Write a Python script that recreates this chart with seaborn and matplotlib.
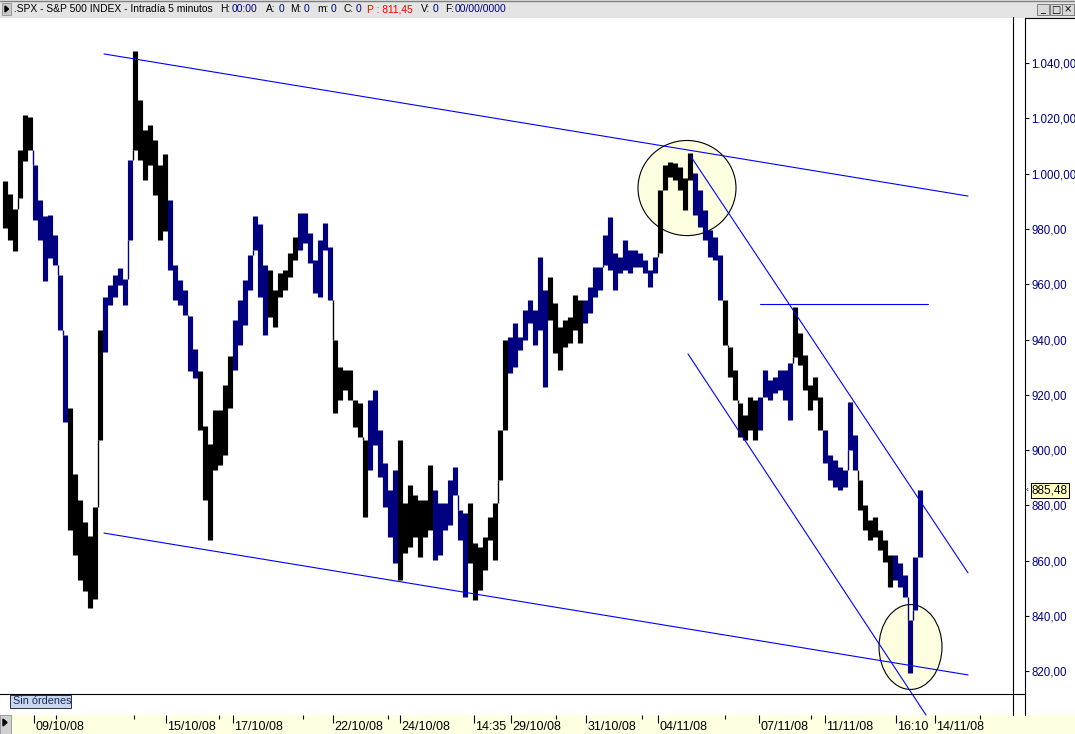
import numpy as np
import seaborn as sns
import matplotlib.pyplot as plt
import matplotlib.transforms as mtransforms
from matplotlib.patches import Ellipse, Rectangle, Polygon
from matplotlib.lines import Line2D

# --- data ------------------------------------------------------------------
# one bar every ~25 minutes, S&P 500 intraday, 08/10/08 .. 13/11/08
highs = [997.3, 992.6, 987.2, 1008.5, 1021.2, 1020.5,
         1003.1, 990.5, 984.7, 985.0, 977.8, 963.3, 941.6,
         915.2, 891.4, 882.0, 874.0, 868.9, 879.4, 943.4,
         955.4, 959.7, 963.3, 965.9, 961.9, 1004.9,
         1044.4, 1026.6, 1015.8, 1017.6, 1012.2, 1003.1, 1007.1,
         990.5, 967.0, 961.5, 957.9, 948.5, 936.6,
         928.6, 908.7, 902.2, 914.5, 914.5, 923.5, 934.0,
         947.0, 954.3, 961.5, 970.6, 984.7, 981.8, 967.0,
         965.1, 957.9, 964.1, 965.1, 971.3, 977.1,
         985.8, 985.8, 978.5, 968.8, 976.0, 982.1, 973.5,
         939.8, 930.1, 929.0, 929.0, 918.1, 917.0, 903.7,
         918.1, 921.7, 907.3, 895.3, 885.6, 892.8,
         903.7, 880.9, 887.4, 883.8, 882.0, 882.0, 894.6,
         885.6, 880.9, 880.9, 889.2, 893.9, 878.3, 877.3,
         880.9, 866.4, 864.9, 868.6, 875.8, 880.9, 907.3, 939.8,
         940.9, 946.0, 940.9, 950.7, 954.3, 950.7, 969.8, 957.9,
         962.6, 953.2, 944.5, 947.1, 948.1, 956.1, 954.3,
         954.3, 959.0, 966.2, 966.2, 977.8, 984.3, 971.3, 969.8, 976.0,
         972.4, 972.4, 971.3, 968.8, 965.1, 969.8,
         994.1, 1003.1, 1004.2, 1003.8, 1002.4, 998.4, 1007.5,
         1000.2, 994.1, 986.8, 979.6, 977.1, 970.6,
         954.3, 937.3, 929.0, 917.0, 912.7, 919.2, 918.1,
         919.2, 929.0, 925.4, 926.4, 929.0, 929.0, 931.5,
         951.8, 942.4, 934.4, 923.5, 926.4, 919.2,
         907.3, 898.2, 896.4, 893.9, 892.8, 917.4, 905.5,
         889.2, 880.1, 874.7, 875.8, 871.1, 867.5, 862.1,
         862.1, 859.2, 854.8, 838.5, 861.3, 885.6]

lows = [980.3, 976.0, 972.0, 991.2, 1004.6, 1008.5,
        983.2, 976.0, 961.2, 969.5, 967.0, 943.4, 910.2,
        871.1, 862.1, 853.0, 849.0, 842.9, 846.1, 903.7,
        935.5, 952.5, 955.4, 959.7, 952.5, 976.0,
        1008.5, 1004.9, 997.7, 1003.1, 992.3, 976.0, 979.2,
        965.1, 954.3, 952.5, 948.9, 928.6, 926.1,
        907.3, 882.0, 867.5, 892.8, 894.6, 898.2, 915.2,
        929.0, 938.0, 945.2, 957.9, 972.4, 955.4, 941.6,
        948.1, 944.5, 955.4, 957.9, 962.6, 968.8,
        972.4, 974.9, 967.7, 956.8, 955.4, 972.4, 954.3,
        913.4, 918.1, 921.7, 918.1, 908.4, 904.7, 875.8,
        892.8, 901.8, 890.3, 879.4, 868.6, 859.2,
        853.0, 862.8, 864.9, 868.6, 861.3, 868.6, 871.1,
        860.2, 862.1, 871.1, 872.9, 883.8, 867.5, 846.9,
        859.2, 845.8, 849.4, 856.6, 867.5, 860.2, 889.2, 907.3,
        927.9, 930.1, 936.2, 939.8, 946.0, 938.0, 943.4, 922.8,
        947.1, 935.1, 929.0, 937.3, 938.7, 943.4, 938.7,
        946.0, 949.6, 955.4, 957.9, 967.0, 965.1, 957.9, 964.1, 965.1,
        964.1, 966.2, 966.2, 964.1, 959.0, 964.1,
        971.3, 994.1, 998.8, 997.7, 994.1, 986.8, 997.7,
        985.0, 980.7, 976.0, 969.8, 968.8, 954.3,
        938.0, 926.4, 918.1, 904.7, 903.7, 907.3, 903.7,
        907.3, 919.2, 918.1, 920.7, 921.7, 918.1, 910.9,
        933.7, 930.8, 921.7, 914.5, 918.1, 907.3,
        895.3, 889.2, 886.7, 885.6, 886.7, 900.0, 892.8,
        878.3, 871.1, 867.5, 868.6, 863.9, 859.5, 850.5,
        853.0, 850.5, 846.9, 819.4, 842.2, 861.3]

# session colour of each bar: B = black day, N = navy day
sessions = ("BBBBBB" "NNNNNNN" "BBBBBBB" "NNNNNN" "BBBBBBB" "NNNNNN" "BBBBBBB"
            "NNNNNNN" "BBBBBB" "NNNNNNN" "BBBBBBB" "NNNNNN" "BBBBBBB" "NNNNNNN"
            "BBBBBBBB" "NNNNNNNN" "BBBBBBB" "NNNNNNNNNNNNNNN" "BBBBBBB" "NNNNNN"
            "BBBBBBB" "NNNNNNN" "BBBBBB" "NNNNNNN" "BBBBBBB" "NNNNNN")

last_price = 885.48

x_major = [5.8, 32.2, 45.6, 65.6, 79.0, 93.8, 101.2, 116.2, 130.6, 150.8, 164.0, 178.2, 186.0]
x_labels = ["09/10/08", "15/10/08", "17/10/08", "22/10/08", "24/10/08", "14:35",
            "29/10/08", "31/10/08", "04/11/08", "07/11/08", "11/11/08", "16:10", "14/11/08"]
x_minor = [10.2, 25.8, 42.8, 59.6, 76.6, 110.2, 127.4, 144.0, 161.2, 195.0]
y_ticks = [820, 840, 860, 880, 900, 920, 940, 960, 980, 1000, 1020, 1040]

# drawn trend lines (bar, price)
upper_chan = ([19.8, 192.6], [1043.3, 991.9])
lower_chan = ([19.8, 192.6], [870.0, 818.7])
down_upper = ([137.0, 192.6], [1006.7, 855.6])
down_lower = ([136.6, 184.2], [934.8, 804.2])
resist = ([151.0, 184.6], [952.8, 952.8])
# marked zones: (bar, price, width in bars, height in points)
zones = [(136.4, 994.8, 19.6, 34.4), (181.1, 828.8, 12.6, 30.7)]

# --- figure ----------------------------------------------------------------
sns.set_style("white")
plt.rcParams['font.family'] = ['Liberation Sans', 'DejaVu Sans']

W, H = 1075, 734
NAVY = '#000080'
fig = plt.figure(figsize=(W / 100, H / 100), dpi=100)


def fx(px):
    return px / W


def fy(py):
    return 1 - py / H


ax = fig.add_axes([0, fy(694), fx(1025), (694 - 18) / H])
ax.set_xlim(-1, 204)
ax.set_ylim(811.8, 1056.3)

x = np.arange(len(highs))
cols = ['black' if s == 'B' else NAVY for s in sessions]

for xy, w, h in [((z[0], z[1]), z[2], z[3]) for z in zones]:
    ax.add_patch(Ellipse(xy, w, h, facecolor='#fdfde0', edgecolor='black', lw=0.8, zorder=1))

# gap wicks between bars
for i in range(1, len(highs)):
    if lows[i] > highs[i - 1]:
        ax.vlines(i - 0.5, highs[i - 1], lows[i], color=cols[i], lw=1.0, zorder=2)
    elif highs[i] < lows[i - 1]:
        ax.vlines(i - 0.5, highs[i], lows[i - 1], color=cols[i], lw=1.0, zorder=2)
ax.vlines(x, lows, highs, colors=cols, linewidth=3.7, zorder=2)

for lx, ly in [upper_chan, lower_chan, down_upper, down_lower, resist]:
    sns.lineplot(x=lx, y=ly, color='#0000ff', lw=0.8, ax=ax, zorder=3, clip_on=False)
ax.set_xlabel('')
ax.set_ylabel('')

for s in ['left', 'top']:
    ax.spines[s].set_visible(False)
for s in ['right', 'bottom']:
    ax.spines[s].set_color('black')
    ax.spines[s].set_linewidth(0.8)

ax.set_xticks([])
ax.yaxis.tick_right()
ax.set_yticks(y_ticks)


def es_fmt(v):
    return f"{v:,.2f}".replace(',', 'X').replace('.', ',').replace('X', '.')


ax.set_yticklabels([es_fmt(v) for v in y_ticks])
ax.tick_params(axis='y', direction='out', length=3, width=0.8, color='black',
               labelcolor=NAVY, labelsize=8.3, pad=1.5)

# last price flag
trans = mtransforms.blended_transform_factory(fig.transFigure, ax.transData)
ax.text(fx(1032), last_price, es_fmt(last_price), transform=trans, fontsize=8.5,
        va='center', ha='left', color='black', clip_on=False,
        bbox=dict(boxstyle='square,pad=0.12', fc='#ffffc0', ec='black', lw=0.7))
ax.text(fx(1026), last_price, '‹', transform=trans, fontsize=6, va='center',
        ha='left', color='black', clip_on=False)

# --- frame pieces --------------------------------------------------------
fig.add_artist(Rectangle((0, fy(18)), 1, 18 / H, transform=fig.transFigure,
                         facecolor='#e4e4e4', edgecolor='none', zorder=-2))
fig.add_artist(Line2D([0, 1], [fy(0.5), fy(0.5)], color='#808080', lw=1))
fig.add_artist(Rectangle((fx(2), fy(15)), fx(9), 12 / H, transform=fig.transFigure,
                         facecolor='#c8c8c8', edgecolor='#909090', lw=0.6))
fig.add_artist(Polygon([[fx(5), fy(6)], [fx(5), fy(12)], [fx(8.5), fy(9)]],
                       closed=True, transform=fig.transFigure, color='black'))

header = [(14, ".SPX - S&P 500 INDEX - Intradía 5 minutos", 'black'),
          (220, "H:", 'black'), (232, "00:00", NAVY),
          (266, "A:", 'black'), (279, "0", NAVY),
          (290, "M:", 'black'), (304, "0", NAVY),
          (317, "m:", 'black'), (331, "0", NAVY),
          (343, "C:", 'black'), (356, "0", NAVY),
          (367, "P : 811,45", '#ff0000'),
          (421, "V:", 'black'), (433, "0", NAVY),
          (445, "F:", 'black'), (455, "00/00/0000", NAVY)]
for px, txt, c in header:
    fig.text(fx(px), fy(9), txt, color=c, fontsize=7.4, va='center', ha='left')

for bx, glyph in [(1037, '_'), (1050, '□'), (1062, '×')]:
    fig.add_artist(Rectangle((fx(bx), fy(15)), fx(12), 11 / H, transform=fig.transFigure,
                             facecolor='#d8d8d8', edgecolor='#707070', lw=0.6))
    fig.text(fx(bx + 6), fy(9.5), glyph, fontsize=7, va='center', ha='center',
             color='black', family=['DejaVu Sans'])

# right axis panel borders
fig.add_artist(Line2D([fx(1013), fx(1013)], [fy(17), fy(715)], color='black', lw=0.8))
fig.add_artist(Line2D([fx(1025), fx(1025)], [fy(694), fy(715)], color='black', lw=0.8))
fig.add_artist(Line2D([fx(1025), fx(1075)], [fy(18), fy(18)], color='black', lw=0.8))

# "Sin órdenes" tag
fig.add_artist(Rectangle((fx(10), fy(708)), fx(61), 13 / H, transform=fig.transFigure,
                         facecolor='#c8d7f0', edgecolor='#303030', lw=0.7))
fig.text(fx(13), fy(701.5), "Sin órdenes", fontsize=7.8, va='center', ha='left',
         color='#1a2a5a')

# time axis band (drawn beneath its own axes)
fig.add_artist(Rectangle((fx(11), 0), fx(1064), 19 / H, transform=fig.transFigure,
                         facecolor='#ffffe1', edgecolor='none', zorder=-2))
fig.add_artist(Rectangle((0, 0), fx(11), 19 / H, transform=fig.transFigure,
                         facecolor='#d0d0d0', edgecolor='#909090', lw=0.6, zorder=-2))
fig.add_artist(Polygon([[fx(3), fy(719)], [fx(3), fy(726)], [fx(7), fy(722.5)]],
                       closed=True, transform=fig.transFigure, color='black', zorder=-1))

bax = fig.add_axes([0, 0, fx(1025), 19 / H])
bax.set_zorder(5)
bax.patch.set_alpha(0)
bax.set_xlim(ax.get_xlim())
bax.set_ylim(0, 19)
bax.axis('off')
bax.vlines(x_major, 11, 19, color='black', lw=0.8)
bax.vlines(x_minor, 15, 19, color='black', lw=0.8)
for px, lab in zip(x_major, x_labels):
    bax.text(px + 0.3, 7, lab, fontsize=9, va='center', ha='left', color='black')

plt.savefig("out.png", dpi=100)
